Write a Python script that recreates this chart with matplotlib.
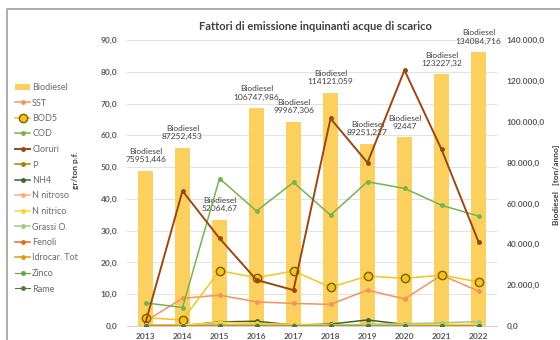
# -*- coding: utf-8 -*-
# Fattori di emissione - acque di scarico, 2013-2022

import matplotlib
matplotlib.use('Agg')
import matplotlib.pyplot as plt
import matplotlib.transforms as mtransforms
from matplotlib.patches import Patch
from matplotlib.lines import Line2D
import numpy as np

plt.rcParams['font.family'] = ['Lato', 'DejaVu Sans']

anni = ['2013', '2014', '2015', '2016', '2017', '2018', '2019', '2020', '2021', '2022']

# produzione biodiesel [ton/anno]
biodiesel = [75951.446, 87252.453, 52064.67, 106747.986, 99967.306,
             114121.059, 89251.227, 92447, 123227.32, 134084.716]
biodiesel_lbl = ['75951,446', '87252,453', '52064,67', '106747,986', '99967,306',
                 '114121,059', '89251,227', '92447', '123227,32', '134084,716']

# inquinanti [gr/ton p.f.]
sst = [1.5, 8.7, 9.7, 7.6, 7.1, 6.8, 11.3, 8.5, 16.0, 11.0]
bod5 = [2.6, 1.9, 17.4, 15.2, 17.3, 12.2, 15.7, 15.0, 16.0, 13.9]
cod = [7.3, 5.8, 46.4, 36.2, 45.2, 34.9, 45.4, 43.3, 38.0, 34.6]
cloruri = [1.0, 42.5, 27.6, 14.5, 11.3, 65.3, 51.4, 80.5, 55.6, 26.5]
fosforo = [0.3, 0.3, 0.3, 0.3, 0.1, 0.2, 0.3, 0.2, 0.2, 0.2]
nh4 = [0.1, 0.1, 1.3, 1.5, 0.3, 0.6, 1.9, 0.5, 0.4, 0.3]
n_nitroso = [0.2, 0.2, 0.2, 0.2, 0.2, 0.2, 0.2, 0.2, 0.2, 0.2]
n_nitrico = [0.2, 0.2, 1.2, 0.8, 0.5, 0.4, 0.4, 0.4, 0.5, 0.5]
grassi = [0.0, 0.0, 0.2, 0.2, 0.2, 0.3, 0.5, 0.7, 1.0, 1.4]
fenoli = [0.05, 0.05, 0.05, 0.05, 0.05, 0.05, 0.05, 0.05, 0.05, 0.05]
idrocarburi = [0.1, 0.1, 0.1, 0.1, 0.1, 0.1, 0.1, 0.1, 0.1, 0.1]
zinco = [0.05, 0.05, 0.05, 0.05, 0.05, 0.05, 0.05, 0.05, 0.05, 0.05]
rame = [0.02, 0.02, 0.02, 0.02, 0.02, 0.02, 0.02, 0.02, 0.02, 0.02]

GRIGIO = '#595959'

serie = [
    # nome, dati, colore, dimensione marker, spessore
    ('SST', sst, '#F2955A', 2.5, 1.1),
    ('BOD5', bod5, '#F7C21B', 6, 1.1),
    ('COD', cod, '#74B450', 2.5, 1.1),
    ('Cloruri', cloruri, '#9A4713', 2.5, 1.4),
    ('P', fosforo, '#A8820E', 2.5, 1.1),
    ('NH4', nh4, '#3D6429', 2.5, 1.1),
    ('N nitroso', n_nitroso, '#F8AC7E', 2.5, 1.1),
    ('N nitrico', n_nitrico, '#FFCF3A', 2.5, 1.1),
    ('Grassi O.', grassi, '#9FCB84', 2.5, 1.1),
    ('Fenoli', fenoli, '#E07020', 2.5, 1.1),
    ('Idrocar. Tot', idrocarburi, '#D2A012', 2.5, 1.1),
    ('Zinco', zinco, '#62A447', 2.5, 0.8),
    ('Rame', rame, '#4F7A3C', 2.5, 0.8),
]


def disegna():
    fig = plt.figure(figsize=(5.6, 3.4), dpi=100)
    ax = fig.add_axes([127 / 560, 1 - 326 / 340, 370 / 560, 286 / 340])
    ax2 = ax.twinx()
    x = np.arange(len(anni))

    # barre sull'asse secondario, dietro alle linee
    ax.set_zorder(ax2.get_zorder() + 1)
    ax.patch.set_visible(False)
    ax2.bar(x, biodiesel, width=0.42, color='#FCD05E', zorder=2)
    ax2.set_ylim(0, 140000)
    ax2.set_yticks(np.arange(0, 140001, 20000))
    ax2.set_yticklabels(['{:,.0f}'.format(v).replace(',', '.') + ',0'
                         for v in np.arange(0, 140001, 20000)])

    # griglia dell'asse principale disegnata sotto le barre
    tr = mtransforms.blended_transform_factory(ax2.transAxes, ax.transData)
    for v in range(10, 91, 10):
        ax2.plot([0, 1], [v, v], color='#E3E3E3', lw=0.8, transform=tr, zorder=0)

    for i, v in enumerate(biodiesel):
        ax2.annotate('Biodiesel\n' + biodiesel_lbl[i], xy=(x[i], v),
                     xytext=(0, 15), textcoords='offset pixels',
                     ha='center', va='center', fontsize=6, color='#404040',
                     linespacing=1.2, annotation_clip=False)

    handles = [Patch(facecolor='#FCD05E', label='Biodiesel')]
    for nome, dati, col, ms, lw in serie:
        bordo = '#7A6000' if nome == 'BOD5' else col
        ax.plot(x, dati, color=col, lw=lw, marker='o', ms=ms,
                mfc=col, mec=bordo, mew=1.0, zorder=3)
        handles.append(Line2D([], [], color=col, lw=lw, marker='o', ms=ms,
                              mfc=col, mec=bordo, mew=1.0, label=nome))

    ax.set_xlim(-0.5, len(anni) - 0.5)
    ax.set_ylim(0, 90)
    ax.set_yticks(np.arange(0, 91, 10))
    ax.set_yticklabels(['{:.1f}'.format(v).replace('.', ',') for v in np.arange(0, 91, 10)])
    ax.set_xticks(x)
    ax.set_xticklabels(anni)

    for a in (ax, ax2):
        for s in a.spines.values():
            s.set_visible(False)
        a.tick_params(length=0, labelsize=6, labelcolor=GRIGIO)
        for t in a.get_xticklabels() + a.get_yticklabels():
            t.set_fontweight('bold')
    ax.spines['bottom'].set_visible(True)
    ax.spines['bottom'].set_color('#D0D0D0')
    ax.tick_params(axis='x', pad=5)
    ax.tick_params(axis='y', pad=7)
    ax2.tick_params(axis='y', pad=7)

    ax.set_ylabel('gr/ton p.f.', fontsize=6, fontweight='bold', color='#404040')
    ax.yaxis.set_label_coords(-0.13, 0.545)
    ax2.set_ylabel('Biodiesel   [ton/anno]', fontsize=6, fontweight='bold',
                   color='#404040')
    ax2.yaxis.set_label_coords(1.15, 0.493)

    fig.text(315 / 560, 1 - 27 / 340, 'Fattori di emissione inquinanti acque di scarico',
             ha='center', va='center', fontsize=8, fontweight='bold', color='#404040')

    fig.legend(handles=handles, loc='upper left', bbox_to_anchor=(15 / 560, 1 - 83 / 340),
               frameon=False, fontsize=6.5, labelcolor='#6A6A6A', handlelength=1.7,
               handletextpad=0.2, labelspacing=0.72, borderpad=0, borderaxespad=0)

    # cornice del riquadro
    fig.add_artist(Line2D([7 / 560, 7 / 560, 1], [0, 1 - 9 / 340, 1 - 9 / 340],
                          color='#A6A6A6', lw=1.3, transform=fig.transFigure))

    fig.savefig('out.png', dpi=100)


if __name__ == "__main__":
    disegna()
